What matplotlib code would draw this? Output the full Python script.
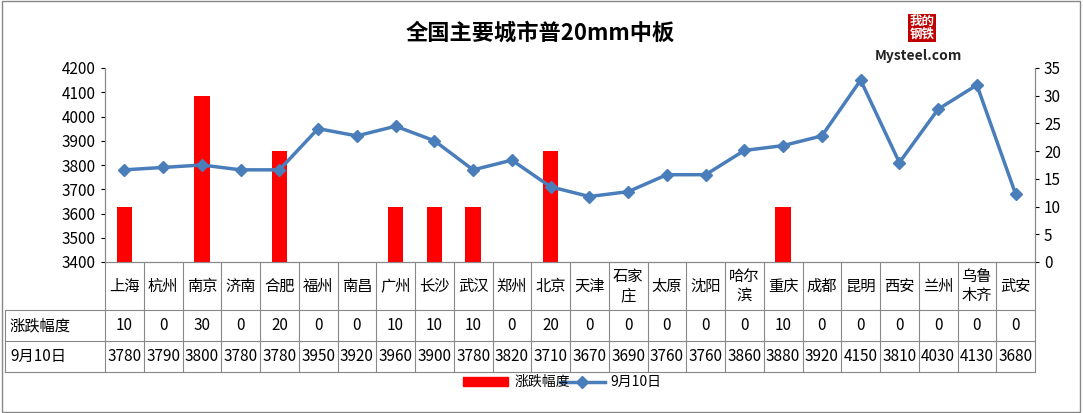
import matplotlib
matplotlib.use('Agg')
import matplotlib.pyplot as plt
from matplotlib.lines import Line2D
from matplotlib.patches import Rectangle

plt.rcParams['font.family'] = ['Noto Sans CJK SC', 'DejaVu Sans']

cities = ['上海', '杭州', '南京', '济南', '合肥', '福州', '南昌', '广州', '长沙', '武汉', '郑州', '北京',
          '天津', '石家庄', '太原', '沈阳', '哈尔滨', '重庆', '成都', '昆明', '西安', '兰州', '乌鲁木齐', '武安']
changes = [10, 0, 30, 0, 20, 0, 0, 10, 10, 10, 0, 20, 0, 0, 0, 0, 0, 10, 0, 0, 0, 0, 0, 0]
prices = [3780, 3790, 3800, 3780, 3780, 3950, 3920, 3960, 3900, 3780, 3820, 3710,
          3670, 3690, 3760, 3760, 3860, 3880, 3920, 4150, 3810, 4030, 4130, 3680]
price_label = '9月10日'
change_label = '涨跌幅度'

W, H = 1083, 413
fig = plt.figure(figsize=(W / 100, H / 100), dpi=100)

def fx(px): return px / W
def fy(py): return 1 - py / H

x0, x1, ytop, ybot = 105, 1035, 68, 262
n = len(cities)
cw = (x1 - x0) / n

ax2 = fig.add_axes([fx(x0), fy(ybot), fx(x1) - fx(x0), fy(ytop) - fy(ybot)])
ax = ax2.twinx()
ax2.yaxis.tick_left(); ax.yaxis.tick_right()

xs = range(n)
ax.bar(xs, changes, width=0.4, color='#FF0000', label=change_label, zorder=2)
ax.set_ylim(0, 35)
ax.set_yticks(range(0, 36, 5))
ax2.set_ylim(3400, 4200)
ax2.set_yticks(range(3400, 4201, 100))
ax2.set_xlim(-0.5, n - 0.5)
ax2.set_xticks([])
ax.set_xticks([])
ax3 = fig.add_axes(ax2.get_position(), sharex=ax2)
ax3.patch.set_visible(False)
ax3.axis('off')
ax3.set_ylim(3400, 4200)
ax3.plot(xs, prices, color='#4A7EBB', lw=2.5, marker='D', ms=6, label=price_label)

for a in (ax, ax2):
    for s in a.spines.values():
        s.set_color('#888888')
    a.tick_params(labelsize=11, length=3, colors='black')
ax2.spines['top'].set_visible(False)
ax.spines['top'].set_visible(False)

# data table
rows = [ybot, 310, 341, 372]
def hline(y, xa, xb):
    fig.add_artist(Line2D([fx(xa), fx(xb)], [fy(y), fy(y)], color='#888888', lw=0.8))
def vline(x, ya, yb):
    fig.add_artist(Line2D([fx(x), fx(x)], [fy(ya), fy(yb)], color='#888888', lw=0.8))
hline(rows[1], 5, x1); hline(rows[2], 5, x1); hline(rows[3], 5, x1)
vline(5, rows[1], rows[3])
for i in range(n + 1):
    vline(x0 + i * cw, ybot, rows[3])
for i, c in enumerate(cities):
    cx = fx(x0 + (i + 0.5) * cw)
    if len(c) > 2:
        c = c[:2] + '\n' + c[2:]
    fig.text(cx, fy((rows[0] + rows[1]) / 2), c, ha='center', va='center', fontsize=11, linespacing=1.2)
    fig.text(cx, fy((rows[1] + rows[2]) / 2), str(changes[i]), ha='center', va='center', fontsize=11)
    fig.text(cx, fy((rows[2] + rows[3]) / 2), str(prices[i]), ha='center', va='center', fontsize=11)
fig.text(fx(10), fy((rows[1] + rows[2]) / 2), change_label, va='center', fontsize=11)
fig.text(fx(10), fy((rows[2] + rows[3]) / 2), price_label, va='center', fontsize=11)

# legend
ly = 382
fig.add_artist(Rectangle((fx(463), fy(ly + 4)), fx(45), fy(0) - fy(9), color='#FF0000', transform=fig.transFigure))
fig.text(fx(515), fy(ly), change_label, va='center', fontsize=10)
fig.add_artist(Line2D([fx(560), fx(605)], [fy(ly), fy(ly)], color='#4A7EBB', lw=2.5, transform=fig.transFigure))
fig.add_artist(Line2D([fx(582)], [fy(ly)], color='#4A7EBB', marker='D', ms=6, transform=fig.transFigure))
fig.text(fx(610), fy(ly), price_label, va='center', fontsize=10)

fig.text(fx(540), fy(33), '全国主要城市普20mm中板', ha='center', va='center', fontsize=16, fontweight='bold')
fig.text(fx(922), fy(28), '我的\n钢铁', ha='center', va='center', fontsize=9, color='white', fontweight='bold',
         bbox=dict(facecolor='#C00000', edgecolor='none', pad=1), linespacing=1.0)
fig.text(fx(918), fy(56), 'Mysteel.com', ha='center', va='center', fontsize=10, fontweight='bold', color='#222222')

fig.add_artist(Rectangle((0.002, 0.003), 0.995, 0.994, fill=False, edgecolor='#888888', lw=1, transform=fig.transFigure))
fig.savefig('out.png', dpi=100)
